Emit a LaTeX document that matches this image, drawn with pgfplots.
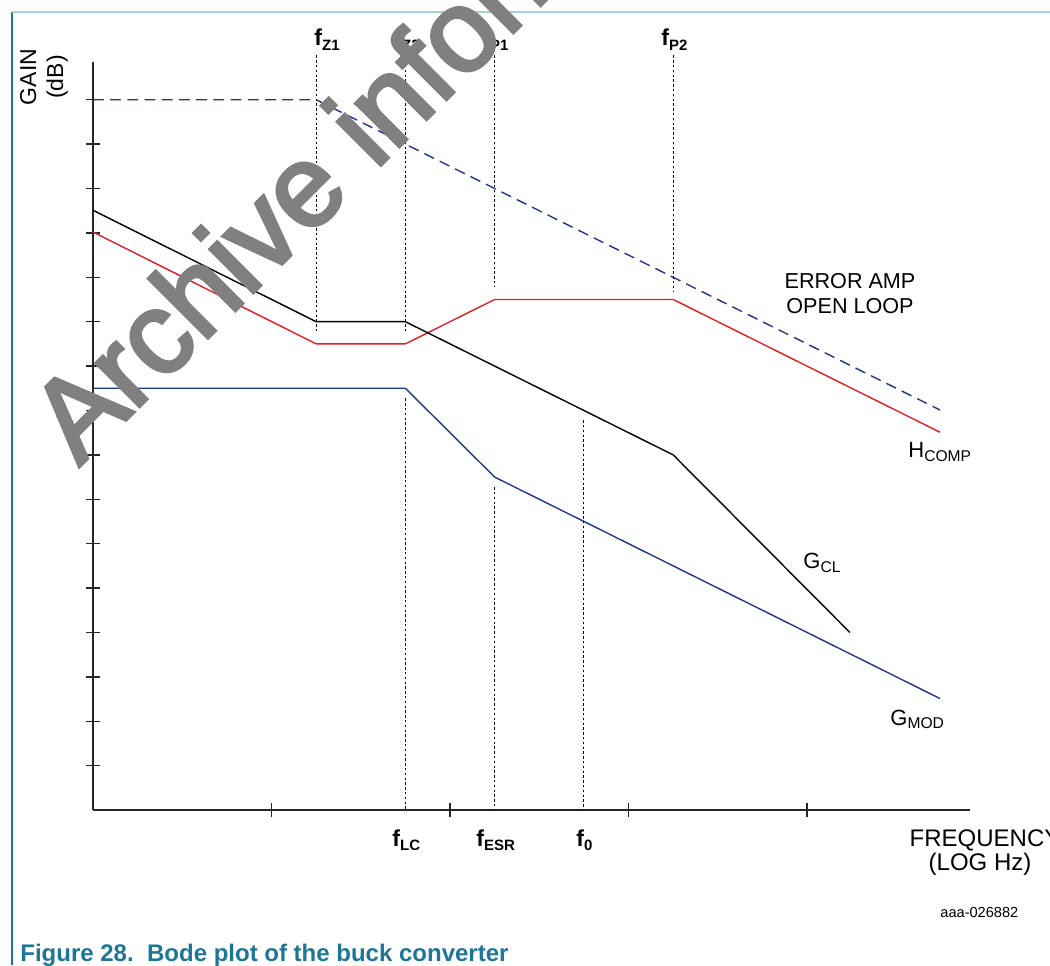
\documentclass[border=0pt]{standalone}
\usepackage{fontspec}
\setmainfont{Liberation Sans}
\newfontfamily\wmfont{Liberation Sans}[FakeBold=3]
\usepackage{pgfplots}
\pgfplotsset{compat=1.18}
\definecolor{navy}{RGB}{31,56,130}
\definecolor{redc}{RGB}{227,30,36}
\definecolor{tealc}{RGB}{30,118,150}
\definecolor{lightb}{RGB}{165,210,225}
\definecolor{wm}{RGB}{128,128,128}
\newcommand{\fs}[1]{\textbf{f}\raisebox{-0.35ex}{\fontsize{7.5}{8}\selectfont\textbf{#1}}}
\newcommand{\lab}[2]{#1\raisebox{-0.3ex}{\fontsize{7.8}{9}\selectfont #2}}
\begin{document}
\begin{tikzpicture}
\path[use as bounding box] (0pt,0pt) rectangle (525pt,482.5pt);
\begin{axis}[at={(46.5pt,77.5pt)}, anchor=south west, scale only axis,
  width=438.5pt, height=374pt,
  xmin=0, xmax=4.913, ymin=0, ymax=16.85,
  axis lines=left, axis line style={-, line width=1pt, black!85},
  xtick={1,2,3,4}, ytick={1,2,...,16},
  xticklabels={}, yticklabels={},
  tick align=center, major tick length=7pt,
  tick style={black!85, line width=0.7pt},
  clip=false]
% error amp open loop
\addplot[navy, line width=0.7pt, dash pattern=on 5.4pt off 3.2pt] coordinates {(0,16) (1.25,16) (4.745,9.01)};
% H comp
\addplot[redc, line width=0.7pt] coordinates {(0,13.02) (1.25,10.5) (1.75,10.5) (2.25,11.5) (3.25,11.5) (4.745,8.51)};
% G CL
\addplot[black, line width=0.7pt] coordinates {(0,13.51) (1.25,11.0) (1.75,11.0) (3.25,8.0) (4.24,4.0)};
% G MOD
\addplot[navy, line width=0.7pt] coordinates {(0,9.5) (1.75,9.5) (2.25,7.5) (4.745,2.51)};
% dotted markers
\addplot[black, line width=0.5pt, dash pattern=on 1.2pt off 1.2pt] coordinates {(1.25,17.0) (1.25,10.75)};
\addplot[black, line width=0.5pt, dash pattern=on 1.2pt off 1.2pt] coordinates {(1.75,17.0) (1.75,10.75)};
\addplot[black, line width=0.5pt, dash pattern=on 1.2pt off 1.2pt] coordinates {(1.75,9.27) (1.75,0)};
\addplot[black, line width=0.5pt, dash pattern=on 1.2pt off 1.2pt] coordinates {(2.25,17.0) (2.25,11.78)};
\addplot[black, line width=0.5pt, dash pattern=on 1.2pt off 1.2pt] coordinates {(2.25,7.27) (2.25,0)};
\addplot[black, line width=0.5pt, dash pattern=on 1.2pt off 1.2pt] coordinates {(2.75,8.78) (2.75,0)};
\addplot[black, line width=0.5pt, dash pattern=on 1.2pt off 1.2pt] coordinates {(3.25,17.0) (3.25,11.7)};
\end{axis}
\begin{scope}[x=0.5pt,y=-0.5pt,shift={(0pt,482.5pt)}]
\draw[tealc, line width=0.6pt] (12,12) -- (12,965);
\draw[lightb, line width=0.8pt] (12,12) -- (1050,12);
\node[anchor=base west, inner sep=0, font=\fontsize{11.5}{13}\selectfont] at (314,46) {\fs{Z1}};
\node[anchor=base west, inner sep=0, font=\fontsize{11.5}{13}\selectfont] at (394,46) {\fs{Z2}};
\node[anchor=base west, inner sep=0, font=\fontsize{11.5}{13}\selectfont] at (482,46) {\fs{P1}};
\node[anchor=base west, inner sep=0, font=\fontsize{11.5}{13}\selectfont] at (661,46) {\fs{P2}};
\node[anchor=base west, inner sep=0, font=\fontsize{11.5}{13}\selectfont] at (392,846) {\fs{LC}};
\node[anchor=base west, inner sep=0, font=\fontsize{11.5}{13}\selectfont] at (476,846) {\fs{ESR}};
\node[anchor=base west, inner sep=0, font=\fontsize{11.5}{13}\selectfont] at (576,846) {\fs{0}};
\node[rotate=90, align=center, inner sep=0, font=\fontsize{11.5}{13.5}\selectfont] at (44,77) {GAIN\\(dB)};
\node[anchor=base east, inner sep=0, font=\fontsize{11}{13}\selectfont] at (68,421) {0};
\node[anchor=base, inner sep=0, font=\fontsize{12}{14}\selectfont] at (985,846) {FREQUENCY};
\node[anchor=base, inner sep=0, font=\fontsize{12}{14}\selectfont] at (980,870) {(LOG Hz)};
\node[anchor=base, inner sep=0, font=\fontsize{10.8}{13}\selectfont] at (850,289) {ERROR AMP};
\node[anchor=base, inner sep=0, font=\fontsize{10.8}{13}\selectfont] at (850,314) {OPEN LOOP};
\node[anchor=base west, inner sep=0, font=\fontsize{11}{13}\selectfont] at (908,458) {\lab{H}{COMP}};
\node[anchor=base west, inner sep=0, font=\fontsize{11}{13}\selectfont] at (803,569) {\lab{G}{CL}};
\node[anchor=base west, inner sep=0, font=\fontsize{11}{13}\selectfont] at (890,725) {\lab{G}{MOD}};
\node[anchor=base west, inner sep=0, font=\fontsize{7.3}{9}\selectfont] at (940,917) {aaa-026882};
\node[anchor=base west, inner sep=0, text=tealc, font=\fontsize{12}{14}\selectfont\bfseries] at (20,961) {Figure 28.\ \ Bode plot of the buck converter};
\node[anchor=base west, inner sep=0, rotate=45, text=wm, font=\wmfont\fontsize{58}{60}\selectfont] at (79,467) {Archive information};
\end{scope}
\end{tikzpicture}
\end{document}
